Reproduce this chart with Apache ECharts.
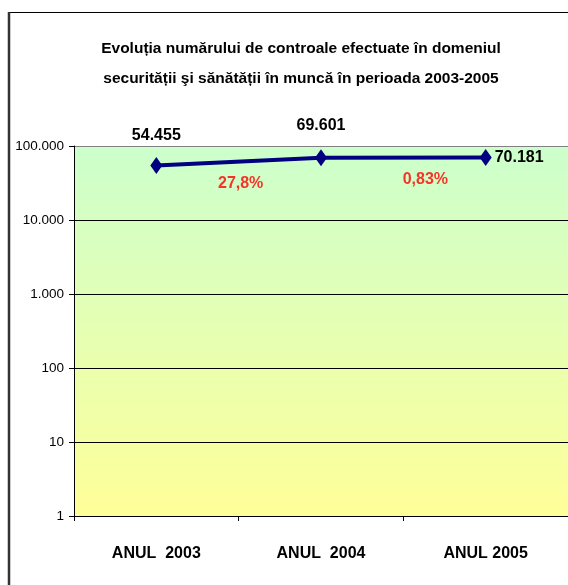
<!DOCTYPE html>
<html>
<head>
<meta charset="utf-8">
<script src="https://cdn.jsdelivr.net/npm/echarts@6/dist/echarts.min.js"></script>
<style>
  html, body { margin: 0; padding: 0; background: #fff; }
  #chart { width: 568px; height: 585px; }
</style>
</head>
<body>
<div id="chart"></div>
<script>
// date
const years = ['ANUL  2003', 'ANUL  2004', 'ANUL 2005']
const controls = [54455, 69601, 70181]
const growthLabels = ['27,8%', '0,83%']
const growthPos = [1, 2] // intre categorii

const FONT = '"Liberation Sans", Arial, sans-serif'

// format cu punct la mii (ro)
const fmt = (v) => String(Math.round(v)).replace(/\B(?=(\d{3})+(?!\d))/g, '.')

// eticheta pentru fiecare punct: 2003/2004 deasupra, 2005 la dreapta
const valueLabel = [
  { position: 'top', distance: 13 },
  { position: 'top', distance: 16 },
  { position: 'right', distance: 3 }
]
const lineData = controls.map((v, i) => ({ value: v, label: valueLabel[i] }))

// pozitia etichetelor de crestere: media geometrica a vecinilor
const growthOffset = [[2, 2], [22, 2]]
const growthData = growthPos.map((p, i) => ({
  value: [p, Math.sqrt(controls[i] * controls[i + 1]), growthLabels[i]],
  label: { offset: growthOffset[i] }
}))

const chart = echarts.init(document.getElementById('chart'))

const option = {
  animation: false,
  backgroundColor: '#fff',
  title: {
    text: 'Evoluția numărului de controale efectuate în domeniul\nsecurității şi sănătății în muncă în perioada 2003-2005',
    left: 296,
    textAlign: 'center',
    top: 29,
    textStyle: {
      fontFamily: FONT,
      fontSize: 15.5,
      fontWeight: 'bold',
      color: '#000',
      lineHeight: 30
    }
  },
  graphic: [
    { type: 'line', shape: { x1: 8, y1: 12.5, x2: 568, y2: 12.5 }, style: { stroke: '#000', lineWidth: 1 } },
    { type: 'line', shape: { x1: 9, y1: 12, x2: 9, y2: 585 }, style: { stroke: '#333', lineWidth: 2.5 } }
  ],
  grid: {
    left: 74,
    top: 146,
    width: 498,
    height: 370,
    show: true,
    borderWidth: 0,
    backgroundColor: new echarts.graphic.LinearGradient(0, 0, 0, 1, [
      { offset: 0, color: '#ccffcc' },
      { offset: 1, color: '#ffff99' }
    ])
  },
  xAxis: [
    {
      type: 'category',
      data: years,
      boundaryGap: true,
      axisLine: { lineStyle: { color: '#000', width: 1 } },
      axisTick: { show: true, length: 5, interval: 0, lineStyle: { color: '#000' } },
      axisLabel: {
        interval: 0,
        margin: 30,
        fontFamily: FONT,
        fontSize: 16,
        fontWeight: 'bold',
        color: '#000'
      },
      splitLine: { show: false }
    },
    {
      type: 'value',
      min: 0,
      max: 3,
      show: false
    }
  ],
  yAxis: {
    type: 'log',
    logBase: 10,
    min: 1,
    max: 100000,
    axisLine: { show: true, lineStyle: { color: '#000', width: 1 } },
    axisTick: { show: true, length: 5, lineStyle: { color: '#000' } },
    axisLabel: {
      margin: 10,
      fontFamily: FONT,
      fontSize: 13.5,
      color: '#000',
      formatter: fmt
    },
    splitLine: {
      show: true,
      lineStyle: { color: ['#000', '#000', '#000', '#000', '#000', '#808080'], width: 1 }
    }
  },
  series: [
    {
      type: 'line',
      xAxisIndex: 0,
      data: lineData,
      symbol: 'diamond',
      symbolSize: [12, 17],
      itemStyle: { color: '#000080' },
      lineStyle: { color: '#000080', width: 4 },
      label: {
        show: true,
        fontFamily: FONT,
        fontSize: 16,
        fontWeight: 'bold',
        color: '#000',
        formatter: (p) => fmt(p.value)
      },
      z: 3
    },
    {
      type: 'scatter',
      xAxisIndex: 1,
      data: growthData,
      symbolSize: 0,
      label: {
        show: true,
        position: 'bottom',
        distance: 12,
        fontFamily: FONT,
        fontSize: 16,
        fontWeight: 'bold',
        color: '#ff0000',
        formatter: (p) => p.value[2]
      },
      silent: true
    }
  ]
}

chart.setOption(option)
</script>
</body>
</html>
